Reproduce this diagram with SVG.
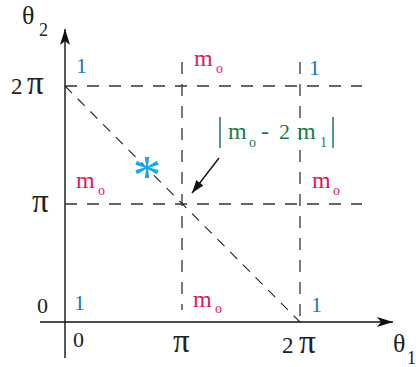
<svg xmlns="http://www.w3.org/2000/svg" width="416" height="367" viewBox="0 0 416 367">
<defs>
<style>
text{font-family:'Liberation Serif','Times New Roman',serif;}
text.pi{font-size:33px;fill:#222}
.ax{stroke:#111;stroke-width:1.4;fill:none}
.dash{stroke:#333;stroke-width:1.3;stroke-dasharray:12 10;fill:none}
.diag{stroke:#222;stroke-width:1.1;stroke-dasharray:10 8;fill:none}
.lbl{fill:#222}
.m{fill:#e0195a}
.one{fill:#1a78c2}
.g{fill:#1a7a4c}
</style>
<marker id="ah" viewBox="0 0 16 10" refX="16" refY="5" markerWidth="16" markerHeight="10" markerUnits="userSpaceOnUse" orient="auto">
<path d="M0,0 L16,5 L0,10 L4,5 Z" fill="#111"/>
</marker>
<marker id="ah2" viewBox="0 0 13 9" refX="13" refY="4.5" markerWidth="13" markerHeight="9" markerUnits="userSpaceOnUse" orient="auto">
<path d="M0,0 L13,4.5 L0,9 Z" fill="#111"/>
</marker>
</defs>
<g id="connectors">
<line class="ax" x1="65" y1="358" x2="65" y2="29" marker-end="url(#ah)"/>
<line class="ax" x1="40" y1="322" x2="393" y2="322" marker-end="url(#ah)"/>
<line class="dash" x1="65" y1="86" x2="362" y2="86"/>
<line class="dash" x1="65" y1="204" x2="362" y2="204"/>
<line class="dash" x1="182" y1="62" x2="182" y2="310"/>
<line class="dash" x1="300" y1="62" x2="300" y2="320"/>
<line class="diag" x1="65" y1="86" x2="300" y2="322"/>
<line x1="219" y1="158" x2="192" y2="193" stroke="#111" stroke-width="1.4" marker-end="url(#ah2)"/>
</g>
<g id="axis-labels">
<text class="lbl" x="22" y="24" font-size="26">θ</text>
<text class="lbl" x="39" y="36" font-size="18">2</text>
<text class="lbl" x="393" y="352" font-size="26">θ</text>
<text class="lbl" x="407" y="364" font-size="18">1</text>
<text class="lbl" x="11" y="94" font-size="23">2</text>
<text class="pi" x="27" y="94">π</text>
<text class="pi" x="32" y="212">π</text>
<text class="lbl" x="37" y="313" font-size="22">0</text>
<text class="lbl" x="73" y="347" font-size="22">0</text>
<text class="pi" x="173" y="352">π</text>
<text class="lbl" x="282" y="353" font-size="23">2</text>
<text class="pi" x="299" y="353">π</text>
</g>
<g id="region-labels">
<text class="one" x="76" y="73" font-size="22">1</text>
<text class="one" x="309" y="75" font-size="22">1</text>
<text class="one" x="74" y="310" font-size="22">1</text>
<text class="one" x="311" y="312" font-size="22">1</text>
<text class="m" x="194" y="66" font-size="24">m</text>
<text class="m" x="216" y="73" font-size="14">o</text>
<text class="m" x="76" y="188" font-size="24">m</text>
<text class="m" x="98" y="195" font-size="14">o</text>
<text class="m" x="312" y="188" font-size="24">m</text>
<text class="m" x="333" y="195" font-size="14">o</text>
<text class="m" x="193" y="307" font-size="24">m</text>
<text class="m" x="215" y="313" font-size="14">o</text>
</g>
<g id="star">
<text x="147" y="195" font-size="58" fill="#19a8e6" text-anchor="middle">*</text>
</g>
<g id="formula">
<line x1="220" y1="117" x2="220" y2="148" stroke="#1a7a4c" stroke-width="1.5"/>
<text class="g" x="228" y="139" font-size="24">m</text>
<text class="g" x="249" y="147" font-size="14">o</text>
<text class="g" x="261" y="139" font-size="24">-</text>
<text class="g" x="279" y="139" font-size="22">2</text>
<text class="g" x="297" y="139" font-size="24">m</text>
<text class="g" x="320" y="147" font-size="14">1</text>
<line x1="333" y1="117" x2="333" y2="148" stroke="#1a7a4c" stroke-width="1.5"/>
</g>
</svg>
